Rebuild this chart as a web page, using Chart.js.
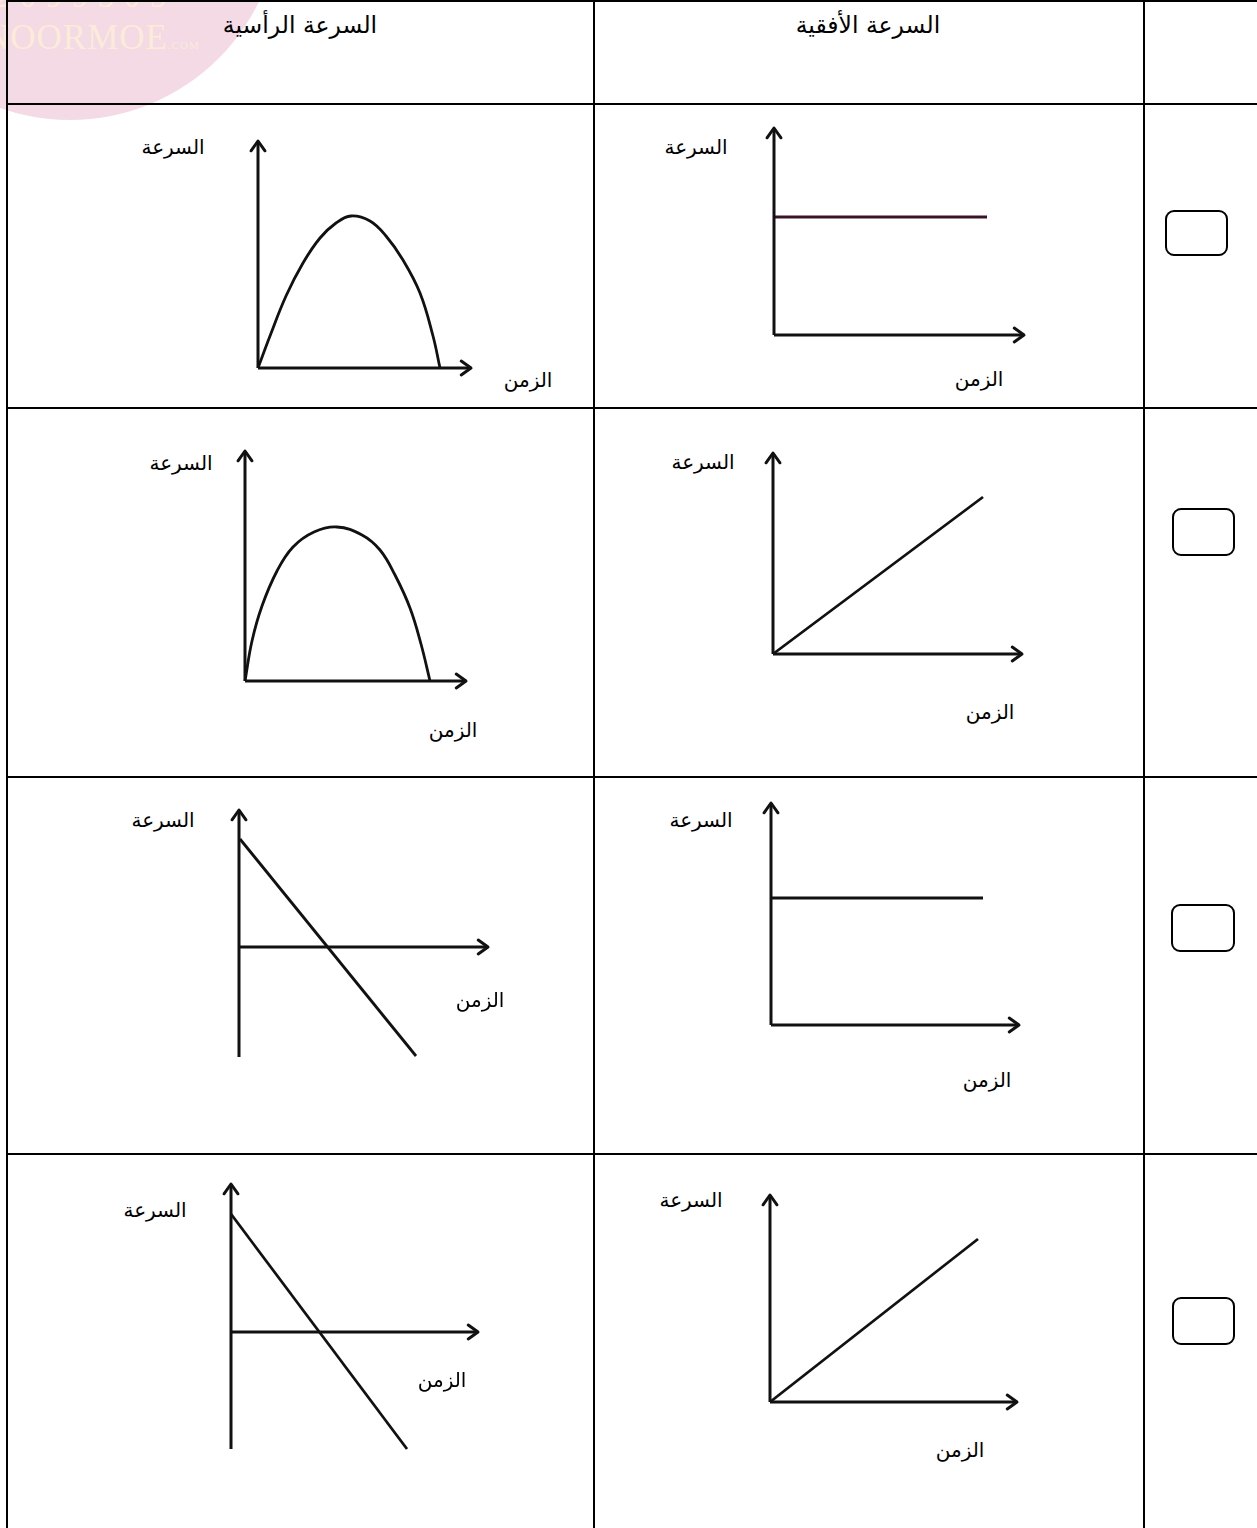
<!DOCTYPE html>
<html lang="ar">
<head>
<meta charset="utf-8">
<title>السرعة الرأسية والسرعة الأفقية</title>
<script src="https://cdn.jsdelivr.net/npm/chart.js@4.4.1/dist/chart.umd.min.js"></script>
<style>
  body { margin: 0; background: #fff; font-family: "DejaVu Sans", sans-serif; }
  #page { position: relative; width: 1257px; height: 1528px; overflow: hidden; background: #fff; }
  .rule { position: absolute; background: #000; }
  .lbl { position: absolute; transform: translate(-50%, -50%); white-space: nowrap; direction: rtl; color: #000; }
  .head { font-size: 23.5px; }
  .axis-title { font-size: 20px; }
  .box { position: absolute; border: 2px solid #000; border-radius: 9px; box-sizing: border-box; }
  canvas { position: absolute; }
  .mark { position: absolute; left: -140px; top: -300px; width: 420px; height: 420px; border-radius: 50%; background: #f3dae5; }
  .mark-text { position: absolute; font-family: "Liberation Serif", serif; color: #fcebd9; white-space: nowrap; }
</style>
</head>
<body>
<div id="page">
  <div class="mark"></div>
  <div class="mark-text" style="left:-6px; top:-22px; font-size:32px; letter-spacing:10px;">2099305</div>
  <div class="mark-text" style="left:-16px; top:18px; font-size:35px; letter-spacing:1px;">NOORMOE<span style="font-size:11px;">.COM</span></div>
</div>
<script>
// column headings and axis titles
const headers = ["السرعة الرأسية", "السرعة الأفقية"];
const speedTitle = "السرعة";
const timeTitle = "الزمن";

// row 1 - vertical speed: rises then falls back to zero
const r1VertT = [0, 1.2, 2.8, 4.5, 6.2, 7.8, 9.3, 11.2, 12.8, 14.5, 16.2, 17.5, 18.2];
const r1VertV = [0, 3.2, 7.2, 10.5, 13.0, 14.5, 15.2, 14.7, 13.2, 10.8, 7.5, 3.2, 0];
// row 1 - horizontal speed: constant
const r1HorT = [0, 21.3];
const r1HorV = [11.8, 11.8];

// row 2 - vertical speed: rises then falls
const r2VertT = [0, 0.7, 1.7, 3.2, 4.8, 6.9, 9.2, 11.7, 13.5, 15.0, 16.5, 17.6, 18.5];
const r2VertV = [0, 4.0, 7.5, 11.0, 13.4, 14.9, 15.4, 14.6, 13.1, 10.6, 7.3, 3.7, 0];
// row 2 - horizontal speed: increasing
const r2HorT = [0, 21.0];
const r2HorV = [0, 15.7];

// row 3 - vertical speed: decreasing through zero
const r3VertT = [0.1, 17.7];
const r3VertV = [10.8, -10.9];
// row 3 - horizontal speed: constant
const r3HorT = [0, 21.2];
const r3HorV = [12.7, 12.7];

// row 4 - vertical speed: decreasing through zero
const r4VertT = [0, 17.6];
const r4VertV = [11.8, -11.7];
// row 4 - horizontal speed: increasing
const r4HorT = [0, 20.8];
const r4HorV = [0, 16.3];

// axis extents, graph order: r1 vert, r1 hor, r2 vert, r2 hor, r3 vert, r3 hor, r4 vert, r4 hor
const timeAxisEnd = [21.3, 25.0, 22.1, 24.9, 24.9, 24.8, 24.7, 24.7];
const speedAxisTop = [22.7, 20.7, 23.0, 20.1, 13.7, 22.2, 14.8, 20.7];
const speedAxisBottom = [0, 0, 0, 0, -11.0, 0, -11.7, 0];

const series = [
  [r1VertT, r1VertV], [r1HorT, r1HorV],
  [r2VertT, r2VertV], [r2HorT, r2HorV],
  [r3VertT, r3VertV], [r3HorT, r3HorV],
  [r4VertT, r4VertV], [r4HorT, r4HorV]
];

// ---- layout (pixels) ----
const UNIT = 10; // px per data unit
const MARGIN = 3; // data units around each graph
const origins = [[258.3, 368.3], [774.4, 335], [245.4, 680.7], [773, 654],
                 [239.3, 946.7], [770.9, 1025], [230.6, 1331.7], [770.1, 1401.7]];
const speedTitlePos = [[173, 147], [696, 147], [181, 463], [703, 462],
                       [163, 820], [701, 820], [155, 1210], [691, 1200]];
const timeTitlePos = [[528, 380], [979, 379], [453, 730], [990, 712],
                      [480, 1000], [987, 1080], [442, 1380], [960, 1450]];
const headerPos = [[300, 25], [868, 25]];
const boxes = [[1164.5, 210, 63, 46], [1171.5, 508, 63, 48], [1170.5, 904, 64, 48], [1171.5, 1297, 63, 48]];
const hRules = [0, 102.5, 406.5, 775.5, 1152.5];
const vRules = [5.5, 593, 1143];

const page = document.getElementById("page");

function addDiv(cls, css, text) {
  const d = document.createElement("div");
  d.className = cls;
  Object.assign(d.style, css);
  if (text) d.textContent = text;
  page.appendChild(d);
  return d;
}

// table rules
hRules.forEach(y => addDiv("rule", { left: "5.5px", top: y + "px", width: "1260px", height: "2px" }));
vRules.forEach(x => addDiv("rule", { left: x + "px", top: "0px", width: "2px", height: "1530px" }));

headers.forEach((h, i) => addDiv("lbl head", { left: headerPos[i][0] + "px", top: headerPos[i][1] + "px" }, h));
boxes.forEach(b => addDiv("box", { left: b[0] + "px", top: b[1] + "px", width: b[2] + "px", height: b[3] + "px" }));

// open arrow heads at the end of the axis lines
const arrowHeads = {
  id: "arrowHeads",
  afterDatasetsDraw(chart) {
    const ctx = chart.ctx;
    chart.data.datasets.forEach((ds, i) => {
      if (!ds.arrow) return;
      const pts = chart.getDatasetMeta(i).data;
      const a = pts[pts.length - 2], b = pts[pts.length - 1];
      const ang = Math.atan2(b.y - a.y, b.x - a.x);
      const len = 12, spread = 0.62;
      ctx.save();
      ctx.strokeStyle = ds.borderColor;
      ctx.lineWidth = ds.borderWidth;
      ctx.lineCap = "round";
      ctx.lineJoin = "round";
      ctx.beginPath();
      ctx.moveTo(b.x - len * Math.cos(ang - spread), b.y - len * Math.sin(ang - spread));
      ctx.lineTo(b.x, b.y);
      ctx.lineTo(b.x - len * Math.cos(ang + spread), b.y - len * Math.sin(ang + spread));
      ctx.stroke();
      ctx.restore();
    });
  }
};

const toPoints = (t, v) => t.map((x, i) => ({ x: x, y: v[i] }));

series.forEach(([t, v], i) => {
  const xMin = -MARGIN, xMax = timeAxisEnd[i] + MARGIN;
  const yMin = speedAxisBottom[i] - MARGIN, yMax = speedAxisTop[i] + MARGIN;
  const canvas = document.createElement("canvas");
  canvas.width = Math.round((xMax - xMin) * UNIT);
  canvas.height = Math.round((yMax - yMin) * UNIT);
  canvas.style.left = (origins[i][0] + xMin * UNIT) + "px";
  canvas.style.top = (origins[i][1] - yMax * UNIT) + "px";
  page.appendChild(canvas);

  const curved = t.length > 2;
  new Chart(canvas, {
    type: "scatter",
    data: {
      datasets: [
        {
          label: timeTitle,
          data: [{ x: 0, y: 0 }, { x: timeAxisEnd[i], y: 0 }],
          showLine: true, arrow: true,
          borderColor: "#111", borderWidth: 3, pointRadius: 0
        },
        {
          label: speedTitle,
          data: [{ x: 0, y: speedAxisBottom[i] }, { x: 0, y: speedAxisTop[i] }],
          showLine: true, arrow: true,
          borderColor: "#111", borderWidth: 3, pointRadius: 0
        },
        {
          label: "v(t)",
          data: toPoints(t, v),
          showLine: true,
          borderColor: i === 1 ? "#3a1426" : "#111",
          borderWidth: 2.8, pointRadius: 0,
          tension: curved ? 0.4 : 0
        }
      ]
    },
    options: {
      responsive: false,
      animation: false,
      events: [],
      layout: { padding: 0 },
      plugins: { legend: { display: false }, tooltip: { enabled: false } },
      scales: {
        x: { type: "linear", min: xMin, max: xMax, display: false },
        y: { type: "linear", min: yMin, max: yMax, display: false }
      }
    },
    plugins: [arrowHeads]
  });

  addDiv("lbl axis-title", { left: speedTitlePos[i][0] + "px", top: speedTitlePos[i][1] + "px" }, speedTitle);
  addDiv("lbl axis-title", { left: timeTitlePos[i][0] + "px", top: timeTitlePos[i][1] + "px" }, timeTitle);
});
</script>
</body>
</html>
